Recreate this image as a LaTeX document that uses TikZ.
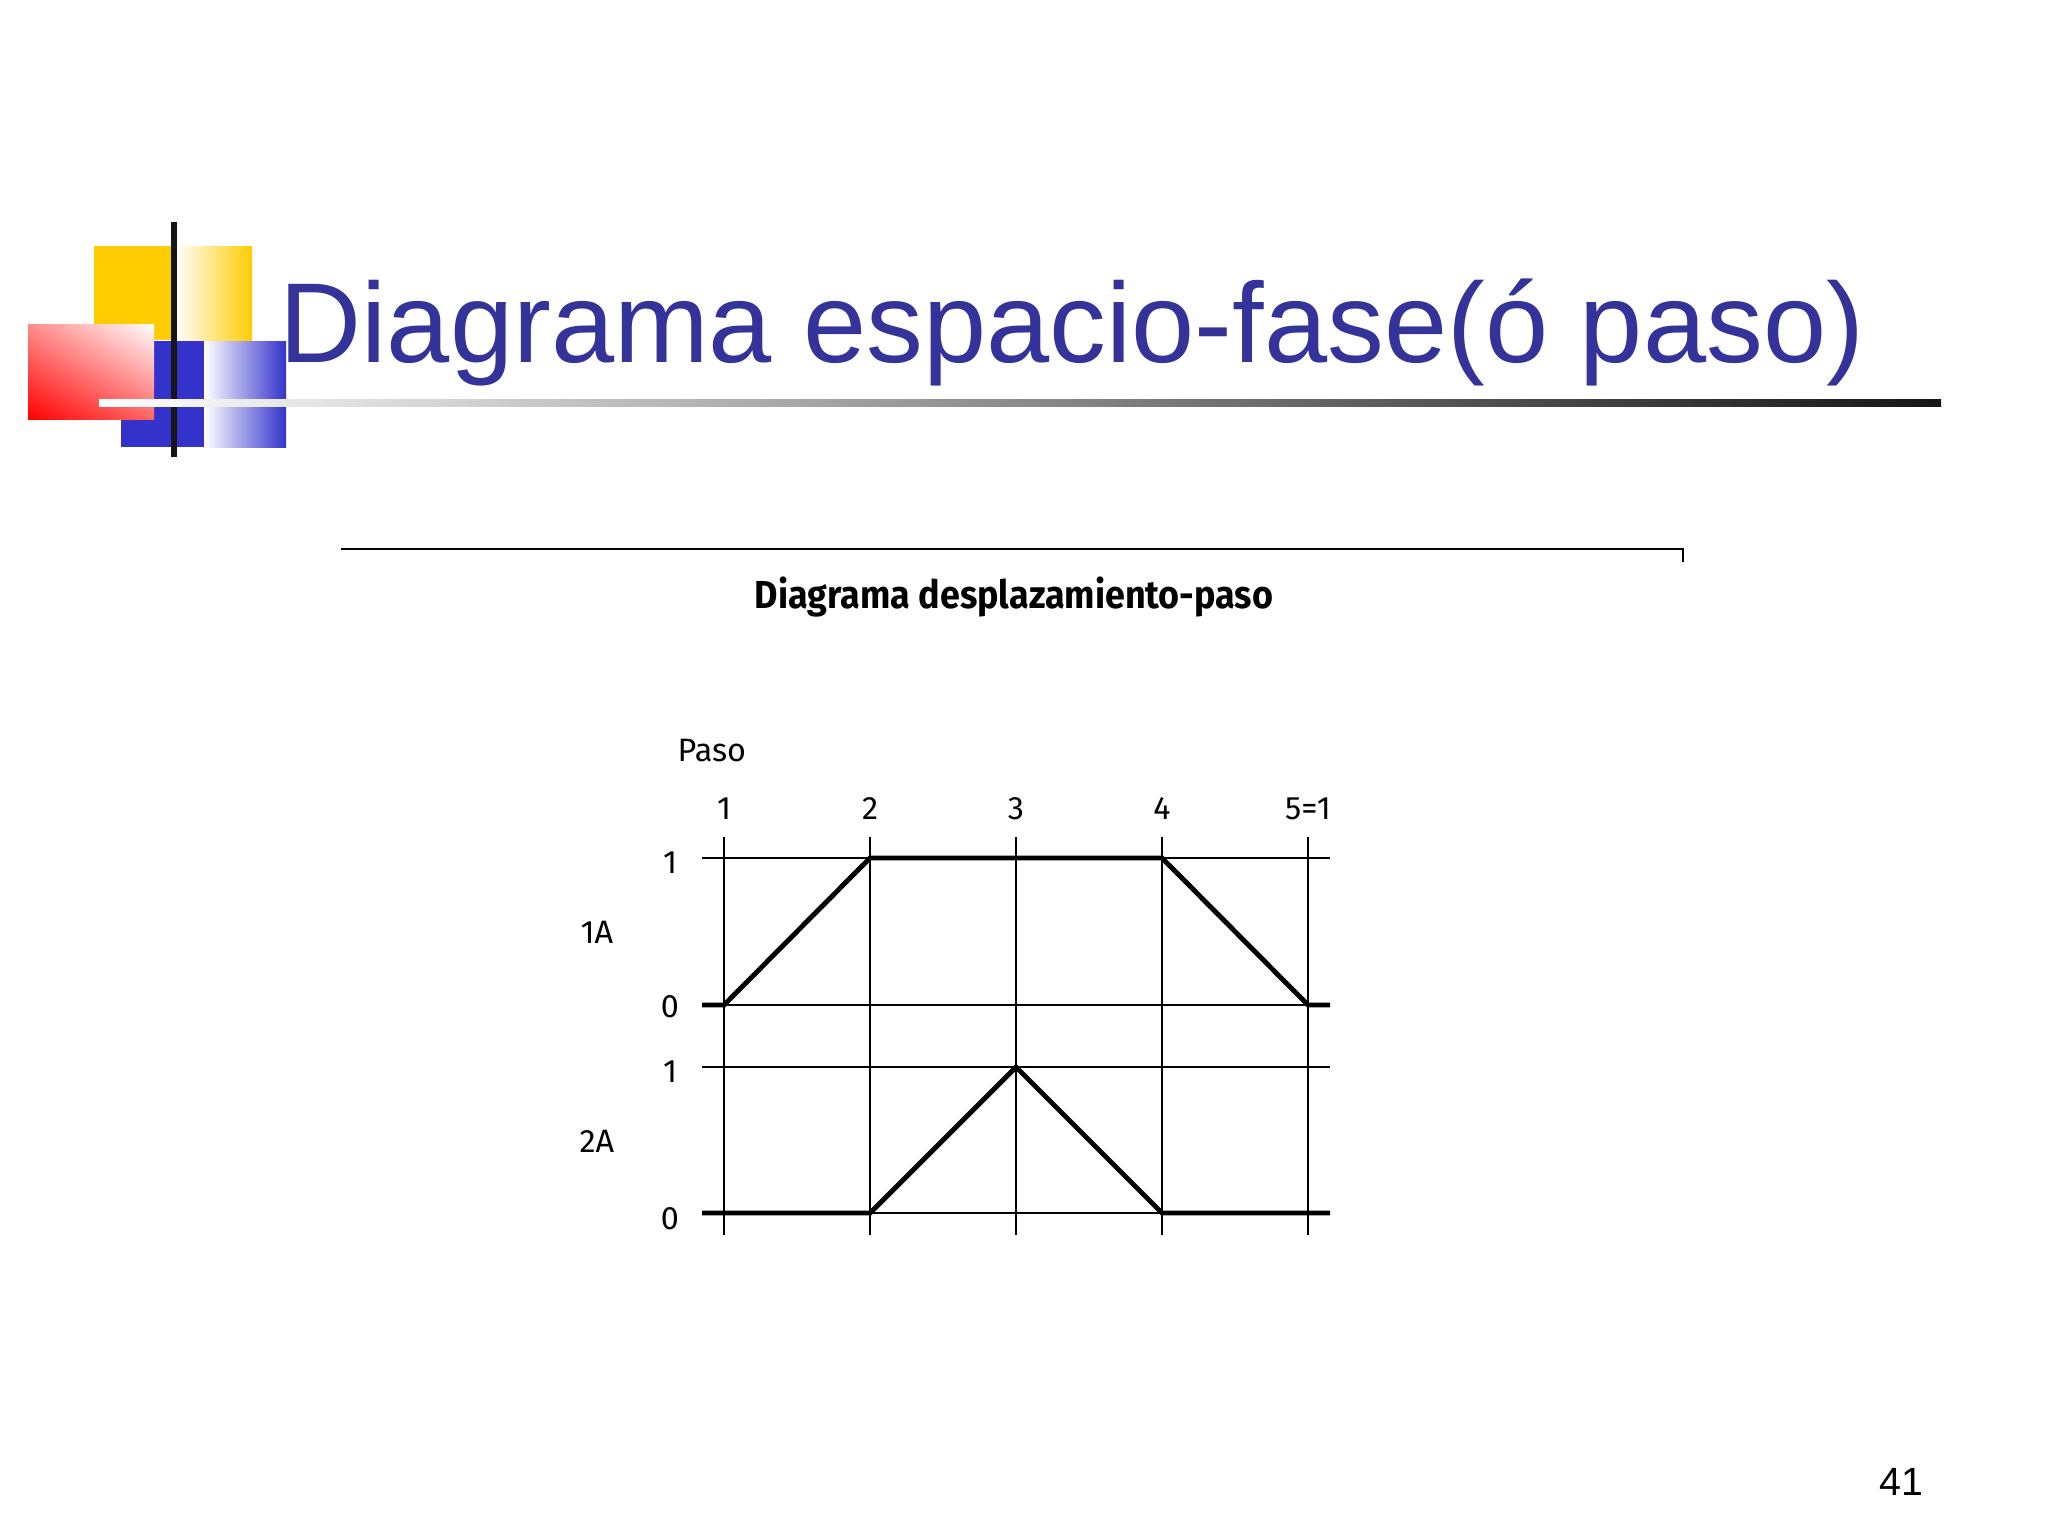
\documentclass[tikz,border=0pt]{standalone}
\usepackage{fontspec}
\setmainfont{Liberation Sans}
\newfontfamily\chartfont{Fira Sans}
\newfontfamily\captionfont[FakeStretch=0.92]{Fira Sans}
\usetikzlibrary{shapes,arrows,positioning,calc,shadings}
\definecolor{titleblue}{RGB}{51,51,153}
\definecolor{logoyellow}{RGB}{255,204,0}
\definecolor{logoblue}{RGB}{51,51,204}
\definecolor{barblack}{RGB}{22,22,22}

\begin{document}
\begin{tikzpicture}[x=0.01cm, y=-0.01cm,
  grid/.style={line width=0.4pt},
  signal/.style={line width=1.4pt, line join=miter},
  lbl/.style={font=\chartfont\fontsize{9.2pt}{11pt}\selectfont, inner sep=0pt, anchor=base}]
  \useasboundingbox (0,0) rectangle (2048,1536);
  \fill[logoyellow] (94,246) rectangle (175,340);
  \shade[left color=white, right color=logoyellow] (175,246) rectangle (252,340);
  \fill[logoblue] (121,341) rectangle (204,447);
  \shade[left color=white, right color=logoblue] (204,341) rectangle (286,447);
  \shade[lower left=red, upper right=white, upper left=red!45!white, lower right=red!60!white] (28,324) rectangle (154,419);
  \fill[barblack] (171,222) rectangle (177,457);
  \shade[left color=white, right color=barblack] (99,399) rectangle (1941,406);
  \node (title) [anchor=base west, inner sep=0pt, text=titleblue,
    font=\fontsize{32.3pt}{36pt}\selectfont] at (279,362) {Diagrama espacio-fase(ó paso)};
  \node (page) [anchor=base west, inner sep=0pt, font=\fontsize{11.2pt}{13pt}\selectfont] at (1879,1495) {41};

  \draw[line width=0.6pt] (341,549) -- (1683,549) -- (1683,562);
  \node (caption) [anchor=base, inner sep=0pt,
    font=\captionfont\bfseries\fontsize{11.1pt}{13pt}\selectfont] at (1014,608) {Diagrama desplazamiento-paso};

  \node (paso) [lbl, anchor=base west] at (677,761) {Paso};
  \foreach \lab [count=\i] in {1,2,3,4,5=1} {
    \node (step\i) [lbl] at ({578+146*\i},819) {\lab};
    \coordinate (top\i) at ({578+146*\i},837);
    \coordinate (bot\i) at ({578+146*\i},1235);
    \draw[grid] (top\i) -- (bot\i);
  }
  \foreach \n/\y/\v/\b in {ahi/858/1/873, alo/1005/0/1017, bhi/1067/1/1082, blo/1213/0/1229} {
    \coordinate (\n l) at (702,\y);
    \coordinate (\n r) at (1330,\y);
    \draw[grid] (\n l) -- (\n r);
    \node (\n val) [lbl] at (670,\b) {\v};
  }
  \node (cyl1) [lbl] at (597,943) {1A};
  \node (cyl2) [lbl] at (597,1152) {2A};

  \draw[signal] (alol) -- (top1 |- alol) -- (top2 |- ahil) -- (top4 |- ahil) -- (top5 |- alol) -- (alor);
  \draw[signal] (blol) -- (top2 |- blol) -- (top3 |- bhil) -- (top4 |- blol) -- (blor);
\end{tikzpicture}
\end{document}
